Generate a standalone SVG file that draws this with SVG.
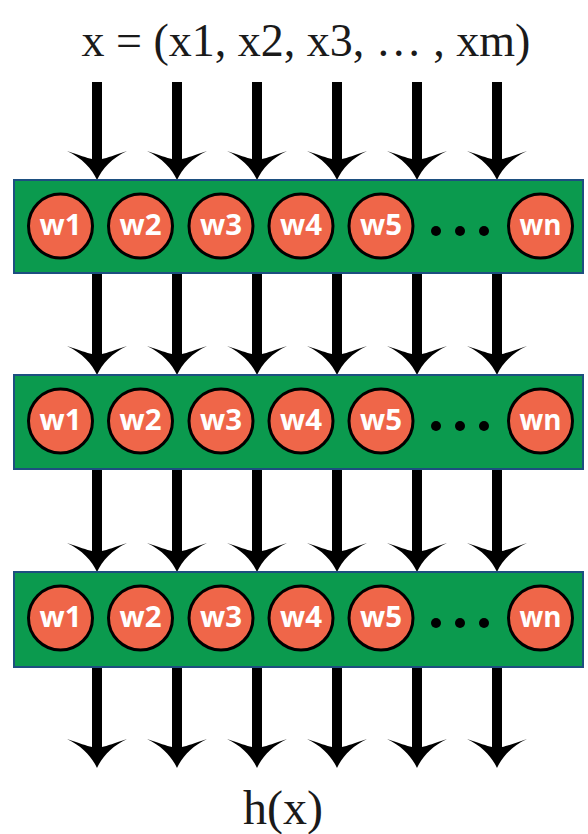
<svg xmlns="http://www.w3.org/2000/svg" width="588" height="834" viewBox="0 0 588 834">
<style>
.layer{fill:#0b9a4e;stroke:#1d4f80;stroke-width:2}
.neuron{fill:#ef6649;stroke:#000;stroke-width:3}
.wl{font-family:"Open Sans","Liberation Sans",sans-serif;font-weight:bold;font-size:28px;fill:#fff;text-anchor:middle}
.dot{fill:#000}
.shaft{stroke:#000;stroke-width:10}
.math{font-family:"Liberation Serif","DejaVu Serif",serif;fill:#1a1a1a;text-anchor:middle}
</style>
<defs>
<path id="head" d="M0,0 C-5,-11 -15,-22 -30,-29 C-18,-25 -10,-22 -5,-21 L5,-21 C10,-22 18,-25 30,-29 C15,-22 5,-11 0,0 Z" fill="#000"/>
</defs>
<text class="math" x="306" y="56" font-size="46">x = (x1, x2, x3, … , xm)</text>
<text class="math" x="283" y="824" font-size="48">h(x)</text>

<g id="connectors">
<g id="arrows-in">
<line class="shaft" x1="97" y1="82" x2="97" y2="162"/><use href="#head" x="97" y="180"/>
<line class="shaft" x1="177" y1="82" x2="177" y2="162"/><use href="#head" x="177" y="180"/>
<line class="shaft" x1="257" y1="82" x2="257" y2="162"/><use href="#head" x="257" y="180"/>
<line class="shaft" x1="337" y1="82" x2="337" y2="162"/><use href="#head" x="337" y="180"/>
<line class="shaft" x1="417" y1="82" x2="417" y2="162"/><use href="#head" x="417" y="180"/>
<line class="shaft" x1="497" y1="82" x2="497" y2="162"/><use href="#head" x="497" y="180"/>
</g>
<g id="arrows-1-2">
<line class="shaft" x1="97" y1="273" x2="97" y2="357"/><use href="#head" x="97" y="375"/>
<line class="shaft" x1="177" y1="273" x2="177" y2="357"/><use href="#head" x="177" y="375"/>
<line class="shaft" x1="257" y1="273" x2="257" y2="357"/><use href="#head" x="257" y="375"/>
<line class="shaft" x1="337" y1="273" x2="337" y2="357"/><use href="#head" x="337" y="375"/>
<line class="shaft" x1="417" y1="273" x2="417" y2="357"/><use href="#head" x="417" y="375"/>
<line class="shaft" x1="497" y1="273" x2="497" y2="357"/><use href="#head" x="497" y="375"/>
</g>
<g id="arrows-2-3">
<line class="shaft" x1="97" y1="469" x2="97" y2="554"/><use href="#head" x="97" y="572"/>
<line class="shaft" x1="177" y1="469" x2="177" y2="554"/><use href="#head" x="177" y="572"/>
<line class="shaft" x1="257" y1="469" x2="257" y2="554"/><use href="#head" x="257" y="572"/>
<line class="shaft" x1="337" y1="469" x2="337" y2="554"/><use href="#head" x="337" y="572"/>
<line class="shaft" x1="417" y1="469" x2="417" y2="554"/><use href="#head" x="417" y="572"/>
<line class="shaft" x1="497" y1="469" x2="497" y2="554"/><use href="#head" x="497" y="572"/>
</g>
<g id="arrows-out">
<line class="shaft" x1="97" y1="667" x2="97" y2="750"/><use href="#head" x="97" y="768"/>
<line class="shaft" x1="177" y1="667" x2="177" y2="750"/><use href="#head" x="177" y="768"/>
<line class="shaft" x1="257" y1="667" x2="257" y2="750"/><use href="#head" x="257" y="768"/>
<line class="shaft" x1="337" y1="667" x2="337" y2="750"/><use href="#head" x="337" y="768"/>
<line class="shaft" x1="417" y1="667" x2="417" y2="750"/><use href="#head" x="417" y="768"/>
<line class="shaft" x1="497" y1="667" x2="497" y2="750"/><use href="#head" x="497" y="768"/>
</g>
</g>

<g id="layer1">
<rect class="layer" x="14" y="180" width="569" height="93"/>
<g id="l1-w1"><circle class="neuron" cx="60.5" cy="226" r="32"/><text class="wl" x="60.5" y="235" textLength="42" lengthAdjust="spacingAndGlyphs">w1</text></g>
<g id="l1-w2"><circle class="neuron" cx="140.5" cy="226" r="32"/><text class="wl" x="140.5" y="235" textLength="42" lengthAdjust="spacingAndGlyphs">w2</text></g>
<g id="l1-w3"><circle class="neuron" cx="221" cy="226" r="32"/><text class="wl" x="221" y="235" textLength="42" lengthAdjust="spacingAndGlyphs">w3</text></g>
<g id="l1-w4"><circle class="neuron" cx="301" cy="226" r="32"/><text class="wl" x="301" y="235" textLength="42" lengthAdjust="spacingAndGlyphs">w4</text></g>
<g id="l1-w5"><circle class="neuron" cx="381" cy="226" r="32"/><text class="wl" x="381" y="235" textLength="42" lengthAdjust="spacingAndGlyphs">w5</text></g>
<g id="l1-dots"><circle class="dot" cx="436" cy="231" r="5"/><circle class="dot" cx="460" cy="231" r="5"/><circle class="dot" cx="484" cy="231" r="5"/></g>
<g id="l1-wn"><circle class="neuron" cx="540.5" cy="226" r="32"/><text class="wl" x="540.5" y="235" textLength="42" lengthAdjust="spacingAndGlyphs">wn</text></g>
</g>

<g id="layer2">
<rect class="layer" x="14" y="375" width="569" height="94"/>
<g id="l2-w1"><circle class="neuron" cx="60.5" cy="421" r="32"/><text class="wl" x="60.5" y="430" textLength="42" lengthAdjust="spacingAndGlyphs">w1</text></g>
<g id="l2-w2"><circle class="neuron" cx="140.5" cy="421" r="32"/><text class="wl" x="140.5" y="430" textLength="42" lengthAdjust="spacingAndGlyphs">w2</text></g>
<g id="l2-w3"><circle class="neuron" cx="221" cy="421" r="32"/><text class="wl" x="221" y="430" textLength="42" lengthAdjust="spacingAndGlyphs">w3</text></g>
<g id="l2-w4"><circle class="neuron" cx="301" cy="421" r="32"/><text class="wl" x="301" y="430" textLength="42" lengthAdjust="spacingAndGlyphs">w4</text></g>
<g id="l2-w5"><circle class="neuron" cx="381" cy="421" r="32"/><text class="wl" x="381" y="430" textLength="42" lengthAdjust="spacingAndGlyphs">w5</text></g>
<g id="l2-dots"><circle class="dot" cx="436" cy="426" r="5"/><circle class="dot" cx="460" cy="426" r="5"/><circle class="dot" cx="484" cy="426" r="5"/></g>
<g id="l2-wn"><circle class="neuron" cx="540.5" cy="421" r="32"/><text class="wl" x="540.5" y="430" textLength="42" lengthAdjust="spacingAndGlyphs">wn</text></g>
</g>

<g id="layer3">
<rect class="layer" x="14" y="572" width="569" height="95"/>
<g id="l3-w1"><circle class="neuron" cx="60.5" cy="618" r="32"/><text class="wl" x="60.5" y="627" textLength="42" lengthAdjust="spacingAndGlyphs">w1</text></g>
<g id="l3-w2"><circle class="neuron" cx="140.5" cy="618" r="32"/><text class="wl" x="140.5" y="627" textLength="42" lengthAdjust="spacingAndGlyphs">w2</text></g>
<g id="l3-w3"><circle class="neuron" cx="221" cy="618" r="32"/><text class="wl" x="221" y="627" textLength="42" lengthAdjust="spacingAndGlyphs">w3</text></g>
<g id="l3-w4"><circle class="neuron" cx="301" cy="618" r="32"/><text class="wl" x="301" y="627" textLength="42" lengthAdjust="spacingAndGlyphs">w4</text></g>
<g id="l3-w5"><circle class="neuron" cx="381" cy="618" r="32"/><text class="wl" x="381" y="627" textLength="42" lengthAdjust="spacingAndGlyphs">w5</text></g>
<g id="l3-dots"><circle class="dot" cx="436" cy="623" r="5"/><circle class="dot" cx="460" cy="623" r="5"/><circle class="dot" cx="484" cy="623" r="5"/></g>
<g id="l3-wn"><circle class="neuron" cx="540.5" cy="618" r="32"/><text class="wl" x="540.5" y="627" textLength="42" lengthAdjust="spacingAndGlyphs">wn</text></g>
</g>
</svg>
